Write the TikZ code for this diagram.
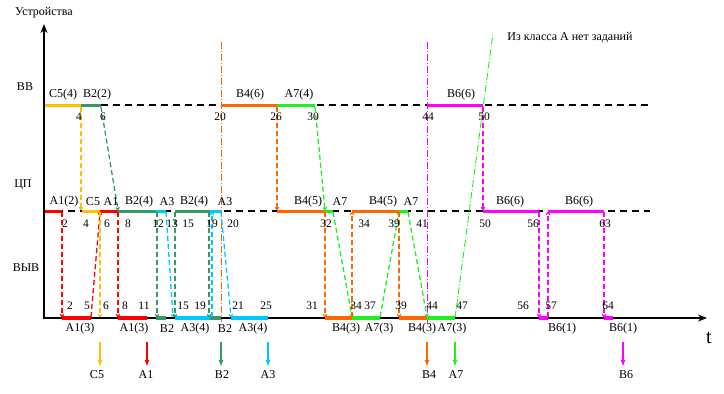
\documentclass[tikz,border=0pt]{standalone}
\usepackage{fontspec}
\setmainfont{Liberation Serif}
\usetikzlibrary{arrows.meta}
\definecolor{cY}{HTML}{FFC000}
\definecolor{cS}{HTML}{339966}
\definecolor{cR}{HTML}{FF0000}
\definecolor{cC}{HTML}{00C8FF}
\definecolor{cO}{HTML}{FF6600}
\definecolor{cG}{HTML}{22EE22}
\definecolor{cM}{HTML}{FF00FF}
\begin{document}
\begin{tikzpicture}[x=1pt,y=-1pt,
  lbl/.style={font=\fontsize{12}{14}\selectfont, inner sep=0pt},
  num/.style={font=\fontsize{11.5}{13}\selectfont, inner sep=0pt},
  seg/.style={line width=3pt},
  oseg/.style={line width=3.6pt},
  gridln/.style={dash pattern=on 7pt off 5pt, line width=1.4pt},
  tr/.style={line width=1.3pt, dash pattern=on 5pt off 3pt, -{To[length=3pt,width=4.5pt]}},
  dd/.style={line width=0.9pt, dash pattern=on 7pt off 2pt on 1pt off 2pt},
  down/.style={line width=1.8pt, -{Latex[length=7pt,width=5pt]}}]
\useasboundingbox (0,0) rectangle (724,394);
% grid dashed lines
\draw[gridln] (101,105) -- (650,105);
\draw[gridln] (44,211) -- (650,211);
% dash-dot verticals
\draw[dd,cO] (221,42) -- (221,322);
\draw[dd,cM] (427,42) -- (427,323);
\draw[dd,cG] (455,318) -- (493,33);
% BB segments
\foreach \a/\b/\c in {44/81/cY,81/101/cS,221/277/cO,277/315/cG,427/483/cM}
  \draw[seg,\c] (\a,105) -- (\b,105);
% CP segments
\foreach \a/\b/\c in {44/62/cR,82/100/cY,100/118/cR,118/156/cS,156/166/cC,175/210/cS,210/221/cC,277/325/cO,325/333/cG,352/399/cO,399/408/cG,483/539/cM,548/604/cM}
  \draw[seg,\c] (\a,211) -- (\b,211);
% axes
\draw[line width=2.4pt,-{Stealth[length=9pt,width=7pt]}] (44,318) -- (707,318);
\draw[line width=2.4pt,-{Stealth[length=9pt,width=7pt]}] (44,319.2) -- (44,24);
% output segments
\foreach \a/\b/\c in {62/91/cR,118/147/cR,156/166/cS,175/210/cC,210/221/cS,231/268/cC,325/352/cO,352/380/cG,399/427/cO,427/455/cG,539/548/cM,604/613/cM}
  \draw[oseg,\c] (\a,318) -- (\b,318);
% transitions
\draw[tr,cY] (81,107) -- (81,210);
\draw[tr,cS] (101,107) -- (118,210);
\draw[tr,cR] (62,212) -- (62,317);
\draw[tr,cR] (91,317) -- (100,212);
\draw[tr,cY] (100,212) -- (100,317);
\draw[tr,cR] (118,212) -- (118,317);
\draw[tr,cS] (157,212) -- (157,317);
\draw[tr,cC] (166,212) -- (173,317);
\draw[tr,cS] (175,212) -- (175,317);
\draw[tr,cS] (209,212) -- (209,317);
\draw[tr,cC] (212,317) -- (212,212);
\draw[tr,cC] (221,212) -- (231,317);
\draw[tr,cO] (277,107) -- (277,210);
\draw[tr,cG] (315,107) -- (325,210);
\draw[tr,cO] (325,212) -- (325,317);
\draw[tr,cG] (333,212) -- (352,317);
\draw[tr,cO] (352,317) -- (352,212);
\draw[tr,cG] (380,317) -- (399,212);
\draw[tr,cO] (399,212) -- (399,317);
\draw[tr,cG] (408,212) -- (427,317);
\draw[tr,cM] (483,107) -- (483,210);
\draw[tr,cM] (539,212) -- (539,317);
\draw[tr,cM] (548,317) -- (548,212);
\draw[tr,cM] (604,212) -- (604,317);
% bottom arrows
\foreach \x/\c/\t/\lx in {100/cY/C5/97,147/cR/A1/146,221/cS/B2/222,268/cC/A3/268,427/cO/B4/429,455/cG/A7/456,623/cM/B6/626}{
  \draw[down,\c] (\x,342) -- (\x,367);
  \node[lbl] at (\lx,375) {\t};
}
% axis labels
\node[lbl] (ust) at (44,13) {Устройства};
\node[lbl] (bb) at (25,87) {ВВ};
\node[lbl] (cp) at (23,185) {ЦП};
\node[lbl] (vyv) at (26,268) {ВЫВ};
\node[font=\fontsize{20}{22}\selectfont, inner sep=0pt] (t) at (709,338) {t};
\node[lbl] (note) at (570,38) {Из класса А нет заданий};
% BB labels
\foreach \x/\t in {63/C5(4),97/B2(2),250/B4(6),299/A7(4),461/B6(6)}
  \node[lbl] at (\x,95) {\t};
\foreach \x/\t in {79/4,103/6,220/20,276/26,313/30,428/44,484/50}
  \node[num] at (\x,117) {\t};
% CP labels
\foreach \x/\t in {64/A1(2),93/C5,111/A1,139/B2(4),167/A3,194/B2(4),225/A3,308/B4(5),340/A7,383/B4(5),411/A7,510/B6(6),579/B6(6)}
  \node[lbl] at (\x,202) {\t};
\foreach \x/\t in {65/2,86/4,107/6,128/8,158/12,172/13,188/15,212/19,233/20,326/32,364/34,394/39,422/41,485/50,533/56,605/63}
  \node[num] at (\x,224) {\t};
% output labels
\foreach \x/\t in {70/2,87/5,106/6,125/8,144/11,183/15,200/19,238/21,266/25,312/31,356/34,370/37,401/39,432/44,462/47,523/56,551/57,608/64}
  \node[num] at (\x,306) {\t};
\foreach \x/\t in {80/A1(3),134/A1(3),167/B2,195/A3(4),225/B2,253/A3(4),346/B4(3),379/A7(3),422/B4(3),452/A7(3),562/B6(1),623/B6(1)}
  \node[lbl] at (\x,329) {\t};
\end{tikzpicture}
\end{document}
